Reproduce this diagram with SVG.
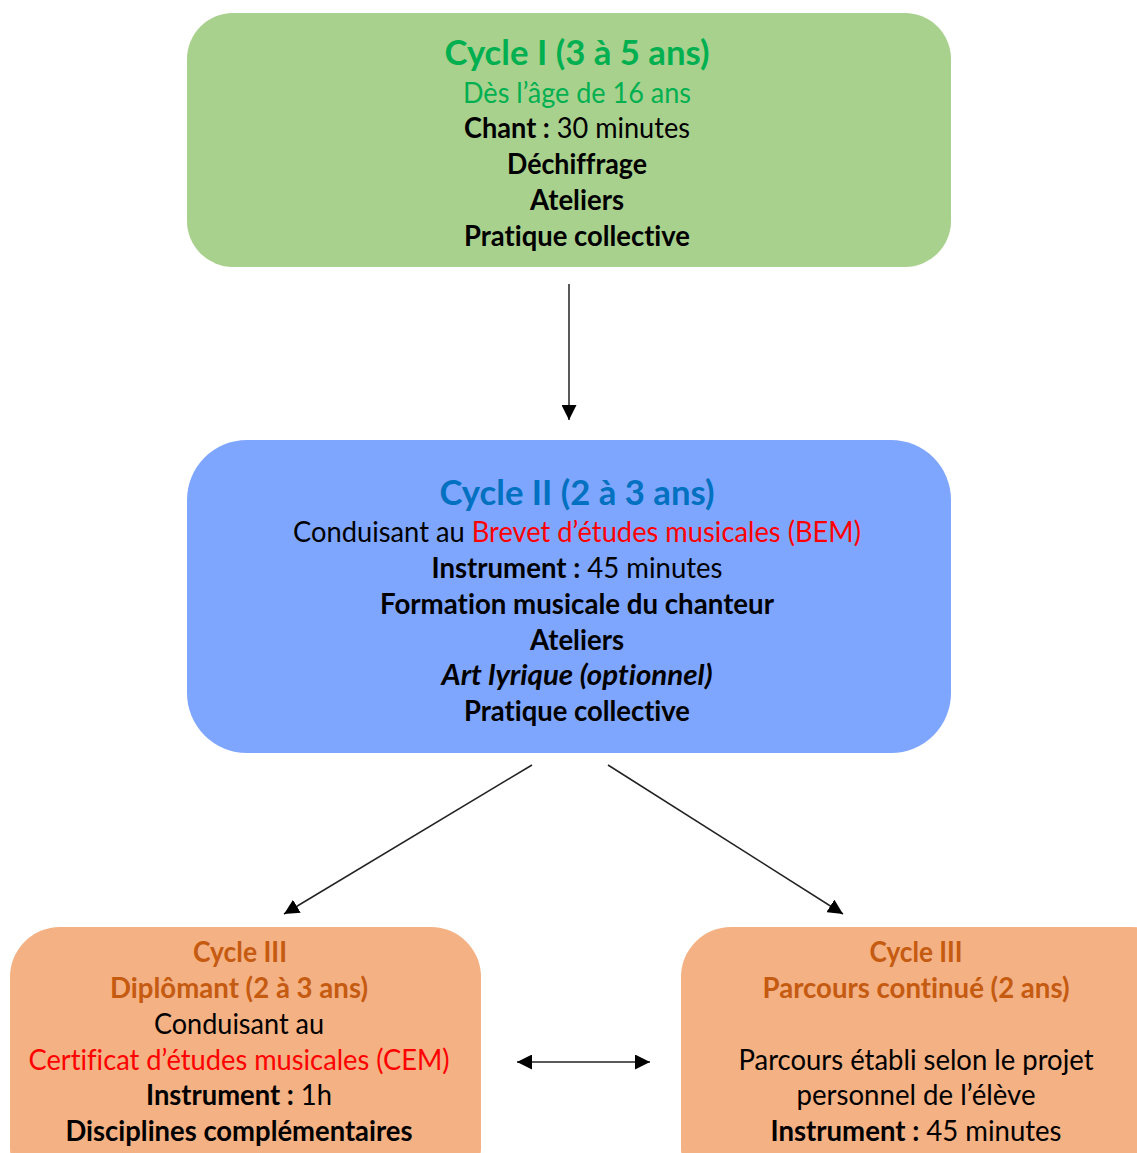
<svg xmlns="http://www.w3.org/2000/svg" width="1137" height="1153" viewBox="0 0 1137 1153">
<defs>
<style>
text{font-family:Lato,"Open Sans","Liberation Sans",sans-serif;font-size:28px;text-anchor:middle;fill:#000;font-variant-ligatures:none;font-feature-settings:"liga" 0;}
.t{font-size:34px;font-weight:bold;}
.b{font-weight:bold;}
.i{font-style:italic;font-weight:bold;}
.red{fill:#FF0000;}
.g{fill:#00B050;}
.bl{fill:#0070C0;}
.o{fill:#C55A11;font-weight:bold;}
.conn{stroke:#222;stroke-width:1.5;fill:none;}
</style>
<marker id="ah" viewBox="0 0 10 10" refX="10" refY="5" markerWidth="15" markerHeight="15" markerUnits="userSpaceOnUse" orient="auto-start-reverse">
<path d="M0,0 L10,5 L0,10 z" fill="#000"/>
</marker>
</defs>
<rect width="1137" height="1153" fill="#fff"/>
<g id="cycle1">
<rect x="187" y="13" width="764" height="254" rx="46" fill="#A9D18E"/>
<text class="t g" x="577" y="65" textLength="265" lengthAdjust="spacingAndGlyphs">Cycle I (3 à 5 ans)</text>
<text class="g" x="577" y="103" textLength="228" lengthAdjust="spacingAndGlyphs">Dès l’âge de 16 ans</text>
<text x="577" y="138" textLength="226" lengthAdjust="spacingAndGlyphs"><tspan class="b">Chant :</tspan> 30 minutes</text>
<text class="b" x="577" y="174" textLength="140" lengthAdjust="spacingAndGlyphs">Déchiffrage</text>
<text class="b" x="577" y="210" textLength="94" lengthAdjust="spacingAndGlyphs">Ateliers</text>
<text class="b" x="577" y="246" textLength="226" lengthAdjust="spacingAndGlyphs">Pratique collective</text>
</g>
<g id="cycle2">
<rect x="187" y="440" width="764" height="313" rx="60" fill="#7FA6FE"/>
<text class="t bl" x="577" y="505" textLength="275" lengthAdjust="spacingAndGlyphs">Cycle II (2 à 3 ans)</text>
<text x="577" y="542" textLength="568" lengthAdjust="spacingAndGlyphs">Conduisant au <tspan class="red">Brevet d’études musicales (BEM)</tspan></text>
<text x="577" y="578" textLength="291" lengthAdjust="spacingAndGlyphs"><tspan class="b">Instrument :</tspan> 45 minutes</text>
<text class="b" x="577" y="614" textLength="394" lengthAdjust="spacingAndGlyphs">Formation musicale du chanteur</text>
<text class="b" x="577" y="650" textLength="94" lengthAdjust="spacingAndGlyphs">Ateliers</text>
<text class="i" x="577" y="685" textLength="271" lengthAdjust="spacingAndGlyphs">Art lyrique (optionnel)</text>
<text class="b" x="577" y="721" textLength="226" lengthAdjust="spacingAndGlyphs">Pratique collective</text>
</g>
<g id="cycle3-diplomant">
<rect x="10" y="927" width="471" height="270" rx="50" fill="#F4B183"/>
<text class="o" x="240" y="962" textLength="94" lengthAdjust="spacingAndGlyphs">Cycle III</text>
<text class="o" x="239" y="998" textLength="258" lengthAdjust="spacingAndGlyphs">Diplômant (2 à 3 ans)</text>
<text x="239" y="1034" textLength="170" lengthAdjust="spacingAndGlyphs">Conduisant au</text>
<text class="red" x="239" y="1070" textLength="421" lengthAdjust="spacingAndGlyphs">Certificat d’études musicales (CEM)</text>
<text x="239" y="1105" textLength="186" lengthAdjust="spacingAndGlyphs"><tspan class="b">Instrument :</tspan> 1h</text>
<text class="b" x="239" y="1141" textLength="347" lengthAdjust="spacingAndGlyphs">Disciplines complémentaires</text>
</g>
<g id="cycle3-parcours">
<rect x="681" y="927" width="500" height="270" rx="50" fill="#F4B183"/>
<text class="o" x="916" y="962" textLength="93" lengthAdjust="spacingAndGlyphs">Cycle III</text>
<text class="o" x="916" y="998" textLength="307" lengthAdjust="spacingAndGlyphs">Parcours continué (2 ans)</text>
<text x="916" y="1070" textLength="355" lengthAdjust="spacingAndGlyphs">Parcours établi selon le projet</text>
<text x="916" y="1105" textLength="239" lengthAdjust="spacingAndGlyphs">personnel de l’élève</text>
<text x="916" y="1141" textLength="291" lengthAdjust="spacingAndGlyphs"><tspan class="b">Instrument :</tspan> 45 minutes</text>
</g>
<g id="connectors">
<line class="conn" x1="569" y1="284" x2="569" y2="420" marker-end="url(#ah)"/>
<line class="conn" x1="532" y1="765" x2="284" y2="914" marker-end="url(#ah)"/>
<line class="conn" x1="608" y1="765" x2="843" y2="914" marker-end="url(#ah)"/>
<line class="conn" x1="517" y1="1062" x2="650" y2="1062" marker-start="url(#ah)" marker-end="url(#ah)"/>
</g>
</svg>
